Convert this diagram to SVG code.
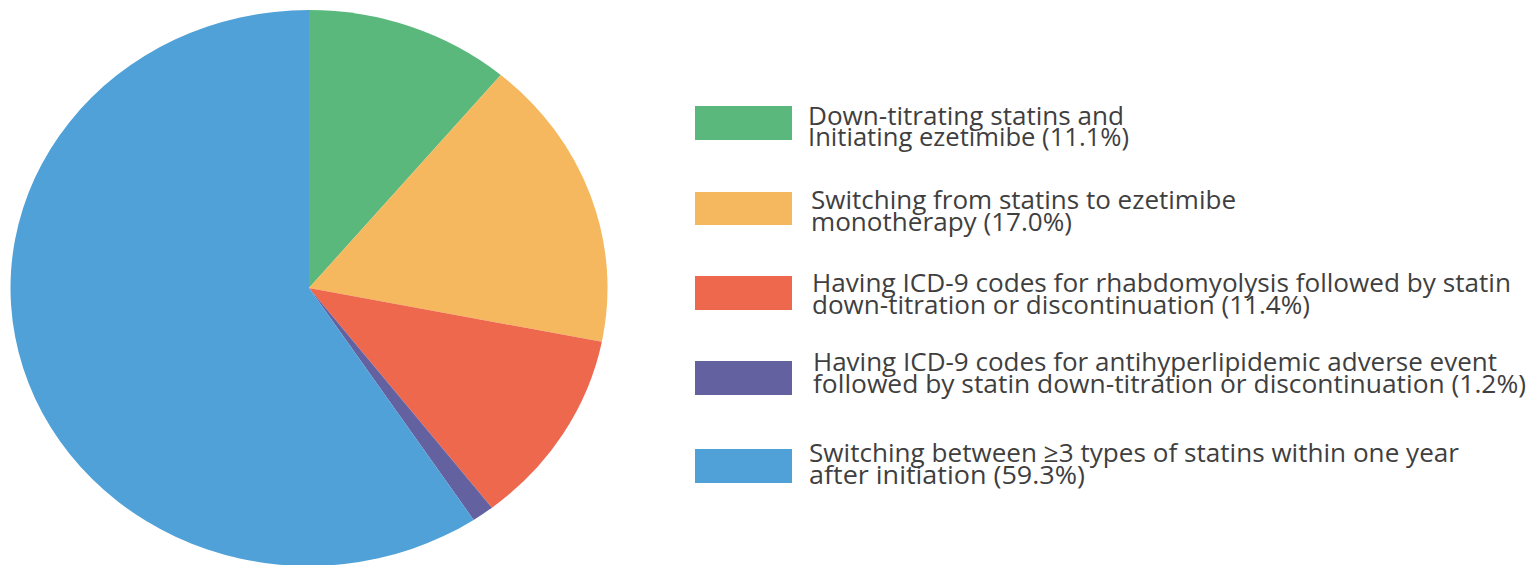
<svg xmlns="http://www.w3.org/2000/svg" width="1536" height="565" viewBox="0 0 1536 565">
<style>
.lbl{font-family:"Open Sans","Noto Sans","Liberation Sans",sans-serif;font-size:26px;fill:#3f3f3f}
.g{fill:#5BB87D}.o{fill:#F5B85E}.r{fill:#EE684E}.p{fill:#6461A1}.b{fill:#4FA1D8}
</style>
<rect width="1536" height="565" fill="#ffffff"/>
<g id="pie">
<path id="slice-green" class="g" d="M309 288 L309 10 A298.5 278 0 0 1 500.8 74.9 Z"/>
<path id="slice-orange" class="o" d="M309 288 L500.8 74.9 A298.5 278 0 0 1 601.86 341.81 Z"/>
<path id="slice-red" class="r" d="M309 288 L601.86 341.81 A298.5 278 0 0 1 491.95 507.66 Z"/>
<path id="slice-purple" class="p" d="M309 288 L491.95 507.66 A298.5 278 0 0 1 473.66 519.88 Z"/>
<path id="slice-blue" class="b" d="M309 288 L473.66 519.88 A298.5 278 0 1 1 309 10 Z"/>
</g>
<g id="connectors"></g>
<g id="legend-green">
<rect class="g" x="695" y="106" width="97" height="34"/>
<text class="lbl" x="808" y="125" textLength="316" lengthAdjust="spacingAndGlyphs">Down-titrating statins and</text>
<text class="lbl" x="808" y="146" textLength="321" lengthAdjust="spacingAndGlyphs">Initiating ezetimibe (11.1%)</text>
</g>
<g id="legend-orange">
<rect class="o" x="695" y="192" width="97" height="33"/>
<text class="lbl" x="811" y="209" textLength="425" lengthAdjust="spacingAndGlyphs">Switching from statins to ezetimibe</text>
<text class="lbl" x="811" y="231" textLength="261" lengthAdjust="spacingAndGlyphs">monotherapy (17.0%)</text>
</g>
<g id="legend-red">
<rect class="r" x="695" y="276" width="97" height="34"/>
<text class="lbl" x="812" y="292" textLength="699" lengthAdjust="spacingAndGlyphs">Having ICD-9 codes for rhabdomyolysis followed by statin</text>
<text class="lbl" x="812" y="314" textLength="498" lengthAdjust="spacingAndGlyphs">down-titration or discontinuation (11.4%)</text>
</g>
<g id="legend-purple">
<rect class="p" x="695" y="361" width="97" height="34"/>
<text class="lbl" x="813" y="371" textLength="684" lengthAdjust="spacingAndGlyphs">Having ICD-9 codes for antihyperlipidemic adverse event</text>
<text class="lbl" x="813" y="393" textLength="713" lengthAdjust="spacingAndGlyphs">followed by statin down-titration or discontinuation (1.2%)</text>
</g>
<g id="legend-blue">
<rect class="b" x="695" y="449" width="97" height="34"/>
<text class="lbl" x="809" y="462" textLength="650" lengthAdjust="spacingAndGlyphs">Switching between ≥3 types of statins within one year</text>
<text class="lbl" x="809" y="484" textLength="276" lengthAdjust="spacingAndGlyphs">after initiation (59.3%)</text>
</g>
</svg>
